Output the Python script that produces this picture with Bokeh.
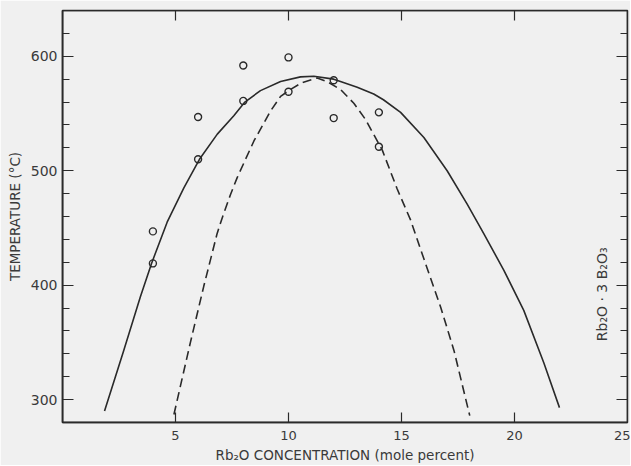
from bokeh.plotting import figure
from bokeh.models import (LinearAxis, FixedTicker, SingleIntervalTicker, Range1d, Label)
from bokeh.embed import file_html
from bokeh.resources import INLINE

# Data
pts_x = [4, 4, 6, 6, 8, 8, 10, 10, 12, 12, 14, 14]
pts_y = [447, 419, 547, 510, 592, 561, 599, 569, 579, 546, 551, 521]

solid_x = [1.86, 2.71, 3.45, 3.94, 4.63, 5.37, 6.06, 6.85, 7.58, 8.07, 8.76, 9.65,
           10.53, 11.12, 12.0, 12.3, 13.04, 13.77, 14.2, 14.96, 15.99, 17.02,
           17.9, 18.64, 19.53, 20.41, 21.3, 21.99]
solid_y = [290, 343, 390, 419, 455, 485, 510, 532, 548, 560, 570, 578,
           582, 582.5, 580, 578, 573, 567, 562, 551, 529, 500,
           471, 445, 413, 378, 332, 293]

dash_x = [4.93, 5.66, 6.25, 6.84, 7.07, 7.43, 7.73, 8.47, 9.2, 9.65, 10.09, 10.6,
          11.27, 11.7, 12.3, 12.89, 13.4, 14.15, 14.81, 15.4, 15.99, 16.73,
          17.32, 18.02]
dash_y = [287, 350, 399, 445, 459, 479, 494, 526, 552, 565, 571, 577,
          581, 578, 571, 559, 545, 518, 484, 457, 423, 381,
          343, 286]

x_ticks = [5, 10, 15, 20, 25]
tick_marks_x = [5, 10, 15, 20]

BG = "#f0f0f0"
INK = "#2a2a2a"
TXT = "#3a3a3a"
FONT = "DejaVu Sans"

p = figure(width=630, height=465, output_backend="svg", toolbar_location=None,
           x_range=Range1d(0, 25), y_range=Range1d(280, 640),
           background_fill_color=BG, border_fill_color=BG,
           min_border_left=62, min_border_right=3, min_border_top=10, min_border_bottom=42,
           x_axis_location=None, y_axis_location=None)
p.grid.visible = False
p.outline_line_color = INK
p.outline_line_width = 1.5


def label_axis(ax):
    ax.axis_line_color = INK
    ax.axis_line_width = 1.5
    ax.major_tick_in = 0
    ax.major_tick_out = 0
    ax.minor_tick_in = 0
    ax.minor_tick_out = 0
    ax.major_label_text_font = FONT
    ax.major_label_text_color = TXT
    ax.axis_label_text_font = FONT
    ax.axis_label_text_color = TXT
    ax.axis_label_text_font_style = "normal"


def tick_axis(ax):
    ax.axis_line_color = INK
    ax.axis_line_width = 1.5
    ax.major_tick_line_color = INK
    ax.minor_tick_line_color = INK
    ax.major_tick_line_width = 1.2
    ax.minor_tick_line_width = 1.0
    ax.major_tick_in = 11
    ax.major_tick_out = 0
    ax.minor_tick_in = 7
    ax.minor_tick_out = 0
    ax.major_label_text_alpha = 0
    ax.major_label_text_font_size = "1px"
    ax.major_label_standoff = 0


# labelled axes
xb = LinearAxis(ticker=FixedTicker(ticks=x_ticks, minor_ticks=[]),
                axis_label="Rb₂O CONCENTRATION (mole percent)")
label_axis(xb)
xb.major_label_text_font_size = "13px"
xb.major_label_standoff = 8
xb.axis_label_text_font_size = "13.5px"
xb.axis_label_standoff = 4
p.add_layout(xb, "below")

yl = LinearAxis(ticker=SingleIntervalTicker(interval=100, num_minor_ticks=5),
                axis_label="TEMPERATURE (°C)")
label_axis(yl)
yl.major_label_text_font_size = "14px"
yl.major_label_standoff = 5
yl.axis_label_text_font_size = "13.5px"
yl.axis_label_standoff = 5
p.add_layout(yl, "left")

# tick-only axes drawn on the frame edges (ticks point inward)
for loc, place, ticker in [
    (280, "below", FixedTicker(ticks=tick_marks_x, minor_ticks=[])),
    (640, "above", FixedTicker(ticks=tick_marks_x, minor_ticks=[])),
    (0, "left", SingleIntervalTicker(interval=100, num_minor_ticks=5)),
    (25, "right", SingleIntervalTicker(interval=100, num_minor_ticks=5)),
]:
    ax = LinearAxis(ticker=ticker, fixed_location=loc)
    tick_axis(ax)
    if place in ("below", "above"):
        ax.major_tick_in = 10
    p.add_layout(ax, place)

p.line(solid_x, solid_y, line_color=INK, line_width=1.6)
p.line(dash_x, dash_y, line_color=INK, line_width=1.6, line_dash="9 5")
p.scatter(pts_x, pts_y, marker="circle", size=7, fill_color=None,
          line_color=INK, line_width=1.4)

lbl = Label(x=23.85, y=392, text="Rb₂O · 3 B₂O₃", angle=1.5708,
            text_align="center", text_baseline="middle",
            text_font=FONT, text_font_size="14px", text_color=TXT)
p.add_layout(lbl)

open("out.html", "w").write(file_html(p, INLINE))
